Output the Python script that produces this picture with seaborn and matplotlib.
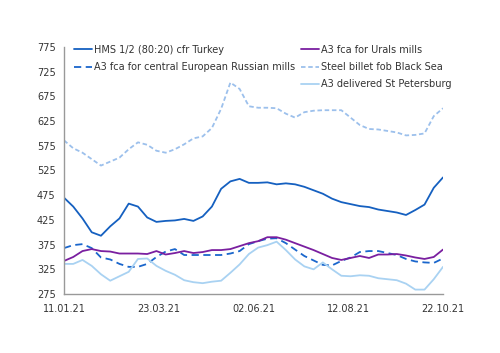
import matplotlib
matplotlib.use("Agg")
import matplotlib.pyplot as plt
import seaborn as sns
import pandas as pd
import numpy as np

sns.set_theme(style="white")
plt.rcParams['font.family'] = ['DejaVu Sans']

dates = pd.date_range("2021-01-11", "2021-10-22", periods=42)
tick_labels = ["11.01.21", "23.03.21", "02.06.21", "12.08.21", "22.10.21"]

hms = [470, 452, 428, 400, 393, 412, 428, 458, 452, 430,
       421, 423, 424, 427, 423, 432, 452, 488, 503, 508,
       500, 500, 501, 497, 499, 497, 492, 485, 478, 468,
       461, 457, 453, 451, 446, 443, 440, 435, 445, 456,
       490, 511]
central_ru = [368, 374, 376, 368, 349, 345, 336, 330, 330, 336,
              350, 361, 366, 354, 354, 354, 354, 354, 357, 362,
              376, 382, 387, 388, 378, 365, 352, 343, 334, 333,
              342, 349, 360, 362, 362, 358, 354, 346, 341, 339,
              338, 347]
urals = [342, 350, 362, 366, 362, 361, 357, 357, 357, 356,
         362, 355, 358, 362, 358, 360, 364, 364, 366, 372,
         378, 382, 390, 390, 385, 378, 371, 364, 356, 348,
         344, 348, 352, 348, 355, 355, 356, 353, 349, 346,
         350, 365]
billet = [586, 570, 561, 548, 535, 543, 551, 568, 582, 577,
          565, 561, 568, 578, 590, 594, 611, 650, 703, 690,
          655, 652, 652, 651, 640, 632, 643, 646, 647, 647,
          647, 632, 617, 609, 608, 605, 602, 596, 597, 600,
          635, 651]
st_pete = [336, 336, 344, 332, 315, 302, 311, 320, 346, 347,
           332, 322, 314, 303, 299, 297, 300, 302, 318, 335,
           356, 369, 374, 381, 364, 345, 331, 325, 339, 325,
           312, 311, 313, 312, 307, 305, 303, 296, 284, 284,
           305, 330]

series = [
    ("HMS 1/2 (80:20) cfr Turkey", hms, "#1560c0", None),
    ("A3 fca for central European Russian mills", central_ru, "#1a66cc", (4, 2.5)),
    ("A3 fca for Urals mills", urals, "#7a1fa0", None),
    ("Steel billet fob Black Sea", billet, "#9cc0ec", (2.5, 1.5)),
    ("A3 delivered St Petersburg", st_pete, "#a9d2f2", None),
]

fig = plt.figure(figsize=(5.0, 3.53), dpi=100)
ax = fig.add_axes([0.128, 0.167, 0.758, 0.700])

lines = {}
for name, vals, col, dash in series:
    df = pd.DataFrame({"date": dates, "value": vals})
    sns.lineplot(data=df, x="date", y="value", ax=ax, color=col,
                 linewidth=1.3, label=name, legend=False)
    ln = ax.get_lines()[-1]
    if dash is not None:
        ln.set_dashes(dash)
    lines[name] = ln

ax.set_xlim(pd.Timestamp("2021-01-11"), pd.Timestamp("2021-10-22"))
ax.set_ylim(275, 775)
ax.set_yticks(np.arange(275, 776, 50))
tick_dates = [pd.to_datetime(t, format="%d.%m.%y") for t in tick_labels]
ax.set_xticks(tick_dates)
ax.set_xticklabels(tick_labels)
ax.set_xlabel("")
ax.set_ylabel("")

for s in ["top", "right"]:
    ax.spines[s].set_visible(False)
for s in ["left", "bottom"]:
    ax.spines[s].set_color("#999999")
    ax.spines[s].set_linewidth(1.0)
ax.tick_params(axis="both", which="both", direction="out", length=4,
               width=1, color="#999999", labelsize=7, labelcolor="#333333",
               pad=2)
ax.tick_params(axis="x", pad=3)

names = [s[0] for s in series]
common = dict(loc="upper left", frameon=False, fontsize=7, handlelength=1.9,
              handletextpad=0.2, labelspacing=0.75, borderaxespad=0)
leg1 = ax.legend([lines[names[0]], lines[names[1]]], [names[0], names[1]],
                 bbox_to_anchor=(0.015, 1.025), **common)
for t in leg1.get_texts():
    t.set_color("#333333")
ax.add_artist(leg1)
leg2 = ax.legend([lines[names[2]], lines[names[3]], lines[names[4]]],
                 [names[2], names[3], names[4]],
                 bbox_to_anchor=(0.615, 1.025), **common)
for t in leg2.get_texts():
    t.set_color("#333333")

fig.savefig("out.png", dpi=100)
